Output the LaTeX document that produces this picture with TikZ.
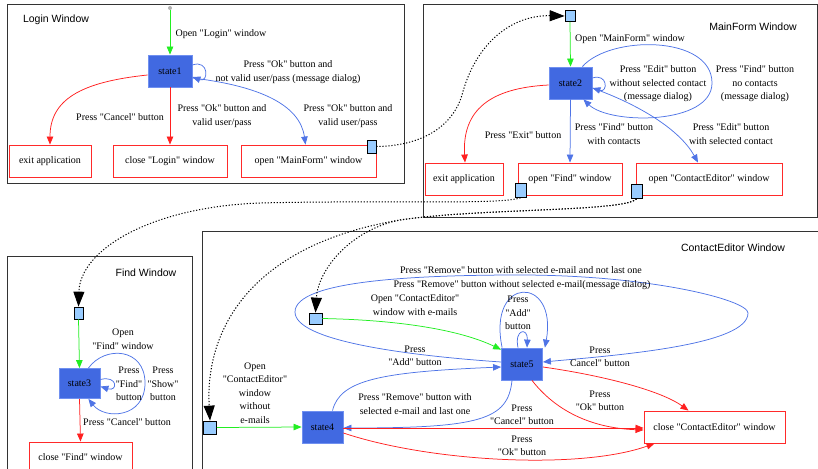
\documentclass[tikz,border=0pt]{standalone}
\usepackage{fontspec}
\setmainfont{Liberation Serif}[Ligatures=TeXOff]
\setsansfont{Liberation Sans}[Ligatures=TeXOff]
\usetikzlibrary{arrows.meta,calc}

\definecolor{stfill}{HTML}{4169E1}
\definecolor{stline}{HTML}{7090F0}
\definecolor{edgeblue}{HTML}{4F74E6}
\definecolor{edgered}{HTML}{FF2020}
\definecolor{edgegreen}{HTML}{22EE22}
\definecolor{portfill}{HTML}{99CCFF}
\definecolor{actred}{HTML}{FF2A2A}
\definecolor{clusterline}{HTML}{333333}

\tikzset{
  stbox/.style={rectangle, draw=stline, fill=stfill, line width=0.8pt,
    minimum width=43pt, minimum height=32pt, inner sep=0pt},
  actbox/.style={rectangle, draw=actred, line width=0.9pt, fill=white,
    minimum height=32pt, inner sep=0pt},
  portbox/.style={rectangle, draw=black, fill=portfill, line width=0.7pt,
    inner sep=0pt, minimum width=10pt, minimum height=12pt},
  lbl/.style={align=center, inner sep=0pt},
  ctitle/.style={font=\sffamily\fontsize{10.5}{12}\selectfont, inner sep=0pt},
  cluster/.style={draw=clusterline, line width=0.9pt},
  tr/.style={line width=0.75pt, -{Triangle[length=8pt,width=6.5pt]}},
  gtr/.style={tr, edgegreen},
  rtr/.style={tr, edgered},
  btr/.style={tr, edgeblue},
  link/.style={black, line width=1pt, dash pattern=on 1.2pt off 1.8pt,
    -{Triangle[length=15pt,width=11pt]}}
}

\begin{document}
\begin{tikzpicture}[x=1pt, y=-1pt, font=\fontsize{10}{13.5}\selectfont]
\useasboundingbox (0,0) rectangle (818,468);

% ---------- window frames ----------
\draw[cluster] (7,4) rectangle (404,183);
\draw[cluster] (423,4) rectangle (817,217);
\draw[cluster] (7,256) rectangle (192,472);
\draw[cluster] (202,231) rectangle (820,472);

\node[ctitle] (tLogin) at (56,20) {Login Window};
\node[ctitle] (tMain) at (753,27) {MainForm Window};
\node[ctitle] (tFind) at (146,273) {Find Window};
\node[ctitle] (tCE) at (733,248) {ContactEditor Window};

% ---------- Login window ----------
\node[circle, fill=gray!60, inner sep=0pt, minimum size=4pt] (startL) at (170,8) {};
\node[stbox, minimum width=44pt] (s1) at (170,71) {state1};
\node[actbox, minimum width=82pt] (exitL) at (50,161) {exit application};
\node[actbox, minimum width=114pt] (closeL) at (170,161) {close "Login" window};
\node[actbox, minimum width=135pt] (openMF) at (308.5,161) {open "MainForm" window};
\node[portbox, minimum width=9pt, minimum height=13pt] (pL) at (371.5,146.5) {};

\draw[gtr] (startL) -- (s1.north);
\draw[btr] ($(s1.east)+(0,-6)$) .. controls (209,59) and (209,83) .. ($(s1.east)+(0,6)$);
\draw[btr] ($(s1.east)+(0,7)$) .. controls (260,86) and (300,105) .. ($(openMF.north)+(-3,0)$);
\draw[rtr] ($(s1.west)+(0,4)$) .. controls (80,82) and (50,100) .. (exitL.north);
\draw[rtr] (s1.south) -- (closeL.north);

\node[lbl] (l1) at (221,34) {Open "Login" window};
\node[lbl] (l2) at (288,72) {Press "Ok" button and\\not valid user/pass (message dialog)};
\node[lbl] (l3) at (120,117) {Press "Cancel" button};
\node[lbl] (l4) at (222,116) {Press "Ok" button and\\valid user/pass};
\node[lbl] (l5) at (348,116) {Press "Ok" button and\\valid user/pass};

% ---------- MainForm window ----------
\node[portbox, minimum height=11pt] (pMF) at (570,16) {};
\node[stbox] (s2) at (570.5,83) {state2};
\node[actbox, minimum width=78pt] (exitM) at (464,179) {exit application};
\node[actbox, minimum width=104pt] (openF) at (570,179) {open "Find" window};
\node[actbox, minimum width=146pt] (openCE) at (709,179) {open "ContactEditor" window};
\node[portbox, minimum width=11pt, minimum height=14pt] (pF) at (520.5,190.5) {};
\node[portbox, minimum width=11pt, minimum height=14pt] (pCE) at (636.5,191.5) {};

\draw[gtr] (pMF.south) -- (s2.north);
\draw[btr] ($(s2.east)+(0,-5)$) .. controls (608,73) and (608,93) .. ($(s2.east)+(0,5)$);
\draw[btr] ($(s2.north east)+(-10,0)$) .. controls (610,35) and (712,35) .. (712,83)
  .. controls (712,125) and (610,125) .. ($(s2.south east)+(-9,0)$);
\draw[rtr] ($(s2.west)+(0,2)$) .. controls (490,88) and (462,110) .. ($(exitM.north)+(1,0)$);
\draw[btr] (s2.south) -- (openF.north);
\draw[btr] ($(s2.east)+(0,5)$) .. controls (640,105) and (680,130) .. ($(openCE.north)+(-11,0)$);

\node[lbl] (m1) at (630,39) {Open "MainForm" window};
\node[lbl] (m2) at (658,84) {Press "Edit" button\\without selected contact\\(message dialog)};
\node[lbl] (m3) at (755,84) {Press "Find" button\\no contacts\\(message dialog)};
\node[lbl] (m4) at (523,135) {Press "Exit" button};
\node[lbl] (m5) at (614,134) {Press "Find" button\\with contacts};
\node[lbl] (m6) at (731,134) {Press "Edit" button\\with selected contact};

% ---------- Find window ----------
\node[portbox, minimum width=9pt] (pFind) at (78.5,313) {};
\node[stbox, minimum width=41pt, minimum height=30pt] (s3) at (79.5,383.5) {state3};
\node[actbox, minimum width=103pt, minimum height=31pt] (closeF) at (80.5,457.5) {close "Find" window};

\draw[gtr] (pFind.south) -- (s3.north);
\draw[btr] ($(s3.east)+(0,-4)$) .. controls (118,375) and (118,392) .. ($(s3.east)+(0,3)$);
\draw[btr] ($(s3.north east)+(-12,0)$) .. controls (105,345) and (145,348) .. (145,383)
  .. controls (145,418) and (105,420) .. ($(s3.south east)+(-12,0)$);
\draw[rtr] (s3.south) -- (closeF.north);

\node[lbl] (f1) at (123,339) {Open\\"Find" window};
\node[lbl] (f2) at (129,384) {Press\\"Find"\\button};
\node[lbl] (f3) at (163,384) {Press\\"Show"\\button};
\node[lbl] (f4) at (127,422) {Press "Cancel" button};

% ---------- ContactEditor window ----------
\node[portbox, minimum width=13pt, minimum height=11pt] (pCE2) at (315.5,318.5) {};
\node[portbox, minimum width=13pt, minimum height=13pt] (pCE1) at (210,427.5) {};
\node[stbox, minimum width=41pt] (s4) at (322.5,427) {state4};
\node[stbox, minimum width=41pt] (s5) at (522,364) {state5};
\node[actbox, minimum width=141pt] (closeCE) at (714.5,427) {close "ContactEditor" window};

\draw[gtr] (pCE1.east) -- (s4.west);
\draw[gtr] (pCE2.east) .. controls (400,320) and (460,330) .. ($(s5.north west)+(0,2)$);
% loops on state5
\draw[btr] ($(s5.north west)+(1,0)$) .. controls (487,275) and (558,275) .. ($(s5.north east)+(2,0)$);
\draw[btr] ($(s5.north)+(-4,0)$) .. controls (514,329) and (528,327) .. ($(s5.north)+(5,0)$);
\draw[btr] ($(s5.west)+(0,-2)$) .. controls (400,355) and (295,340) .. (295,312)
  .. controls (295,280) and (420,275) .. (520,275)
  .. controls (650,275) and (748,300) .. (748,313)
  .. controls (748,345) and (620,355) .. ($(s5.east)+(0,-2)$);
% between state4 and state5
\draw[btr] ($(s4.north)+(10,0)$) .. controls (340,380) and (380,372) .. ($(s5.west)+(0,3)$);
\draw[btr] ($(s5.south)+(-10,0)$) .. controls (508,420) and (480,428) .. ($(s4.east)+(0,1)$);
% to the closing action
\draw[rtr] ($(s4.east)+(0,1)$) -- ($(closeCE.west)+(0,1)$);
\draw[rtr] ($(s4.east)+(0,6)$) .. controls (430,462) and (580,470) .. ($(closeCE.south west)+(11,0)$);
\draw[rtr] ($(s5.south)+(10,0)$) .. controls (555,410) and (590,428) .. ($(closeCE.west)+(0,3)$);
\draw[rtr] ($(s5.east)+(0,3)$) .. controls (600,375) and (660,390) .. ($(closeCE.north)+(-26,0)$);

\node[lbl] (c1) at (255,393) {Open\\"ContactEditor"\\window\\without\\e-mails};
\node[lbl] (c2) at (415,305) {Open "ContactEditor"\\window with e-mails};
\node[lbl] (c3) at (521,270) {Press "Remove" button with selected e-mail and not last one};
\node[lbl] (c4) at (522,285) {Press "Remove" button without selected e-mail(message dialog)};
\node[lbl] (c5) at (518,313) {Press\\"Add"\\button};
\node[lbl] (c6) at (415,356) {Press\\"Add" button};
\node[lbl] (c7) at (415,404) {Press "Remove" button with\\selected e-mail and last one};
\node[lbl] (c8) at (522,415) {Press\\"Cancel" button};
\node[lbl] (c9) at (522,446) {Press\\"Ok" button};
\node[lbl] (c10) at (600,401) {Press\\"Ok" button};
\node[lbl] (c11) at (600,357) {Press\\Cancel" button};

% ---------- links between windows ----------
\draw[link] (pL.east) .. controls (420,146) and (452,128) .. (462,95)
  .. controls (475,45) and (510,15) .. (pMF.west);
\draw[link] (pF.south) .. controls (500,205) and (380,200) .. (260,203)
  .. controls (150,207) and (80,250) .. (pFind.north);
\draw[link] (pCE.south) .. controls (625,212) and (480,208) .. (400,220)
  .. controls (250,245) and (205,330) .. (pCE1.north);
\draw[link] (pCE.south) .. controls (625,212) and (480,208) .. (400,220)
  .. controls (350,230) and (318,270) .. (pCE2.north);
\end{tikzpicture}
\end{document}
